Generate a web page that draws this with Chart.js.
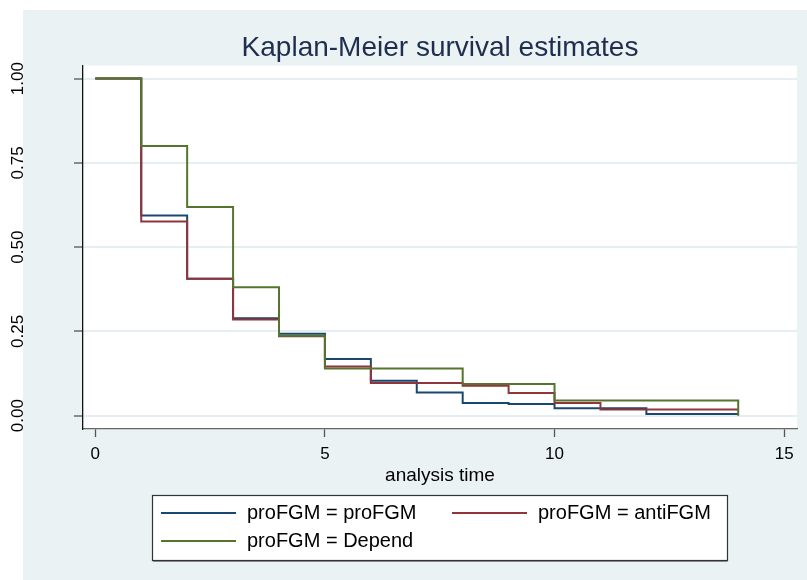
<!DOCTYPE html>
<html>
<head>
<meta charset="utf-8">
<script src="https://cdn.jsdelivr.net/npm/chart.js@4"></script>
<style>
  html, body { margin: 0; padding: 0; background: #fff; }
  #wrap { width: 807px; height: 580px; }
</style>
</head>
<body>
<div id="wrap"><canvas id="km"></canvas></div>
<script>
'use strict';

// Datos (función escalonada de Kaplan-Meier)
const TIEMPOS = [0, 1, 2, 3, 4, 5, 6, 7, 8, 9, 10, 11, 12, 13, 14];
const PRO_FGM = [1, 0.594, 0.406, 0.289, 0.243, 0.168, 0.104, 0.069, 0.038, 0.035, 0.022, 0.022, 0.005, 0.005, 0.005];
const ANTI_FGM = [1, 0.576, 0.406, 0.285, 0.236, 0.146, 0.097, 0.097, 0.089, 0.067, 0.038, 0.018, 0.018, 0.018, 0.018];
const DEPEND = [1, 0.80, 0.619, 0.381, 0.237, 0.14, 0.14, 0.14, 0.094, 0.094, 0.045, 0.045, 0.045, 0.045, 0];
const SERIES = ['proFGM = proFGM', 'proFGM = antiFGM', 'proFGM = Depend'];
const X_TICKS = [0, 5, 10, 15];
const Y_TICKS = [0, 0.25, 0.5, 0.75, 1];

const NAVY = '#1a476f', MAROON = '#90353b', VERDE = '#55752f';
const FONDO = '#eaf2f3';
const FAM = "'Liberation Sans', Arial, sans-serif";

const toPts = (ys) => TIEMPOS.map((t, i) => ({ x: t, y: ys[i] }));

// Fondo estilo Stata: margen blanco, región gris azulada, área de trazado blanca
const fondoPlugin = {
  id: 'fondo',
  beforeDraw(chart) {
    const { ctx, chartArea: a } = chart;
    ctx.save();
    ctx.fillStyle = '#fff';
    ctx.fillRect(0, 0, chart.width, chart.height);
    ctx.fillStyle = FONDO;
    ctx.fillRect(23, 10, chart.width - 23, chart.height - 10);
    ctx.fillStyle = '#fff';
    ctx.fillRect(a.left, a.top, a.right - a.left, a.bottom - a.top);
    ctx.restore();
  },
};

// Etiquetas del eje Y giradas 90°, como en Stata
const yLabelsPlugin = {
  id: 'yLabels',
  afterDraw(chart) {
    const { ctx } = chart;
    const ys = chart.scales.y;
    ctx.save();
    ctx.font = `17px ${FAM}`;
    ctx.fillStyle = '#000';
    ctx.textAlign = 'center';
    ctx.textBaseline = 'middle';
    ys.ticks.forEach(t => {
      const py = ys.getPixelForValue(t.value);
      ctx.save();
      ctx.translate(18, py);
      ctx.rotate(-Math.PI / 2);
      ctx.fillText(t.value.toFixed(2), 0, 0);
      ctx.restore();
    });
    ctx.restore();
  },
};

// Leyenda con recuadro, dos columnas
const leyendaPlugin = {
  id: 'leyenda',
  afterDraw(chart) {
    const { ctx } = chart;
    const box = { x: 152, y: 495, w: 575, h: 65 };
    ctx.save();
    ctx.fillStyle = '#fff';
    ctx.fillRect(box.x, box.y, box.w, box.h);
    ctx.strokeStyle = '#333';
    ctx.lineWidth = 1.2;
    ctx.strokeRect(box.x + 0.5, box.y + 0.5, box.w, box.h);
    ctx.strokeStyle = '#888';
    ctx.beginPath();
    ctx.moveTo(box.x + 1, box.y + box.h + 1.5);
    ctx.lineTo(box.x + box.w + 0.5, box.y + box.h + 1.5);
    ctx.stroke();
    const items = [
      { x: 161, y: 513 }, { x: 452, y: 513 }, { x: 161, y: 541 },
    ];
    ctx.font = `20px ${FAM}`;
    ctx.textBaseline = 'middle';
    ctx.textAlign = 'left';
    chart.data.datasets.forEach((ds, i) => {
      const it = items[i];
      ctx.strokeStyle = ds.borderColor;
      ctx.lineWidth = 2;
      ctx.beginPath();
      ctx.moveTo(it.x, it.y);
      ctx.lineTo(it.x + 75, it.y);
      ctx.stroke();
      ctx.fillStyle = '#000';
      ctx.fillText(ds.label, it.x + 86, it.y);
    });
    ctx.restore();
  },
};

new Chart(document.getElementById('km'), {
  type: 'line',
  data: {
    datasets: [
      { label: SERIES[0], data: toPts(PRO_FGM), borderColor: NAVY, order: 2 },
      { label: SERIES[1], data: toPts(ANTI_FGM), borderColor: MAROON, order: 1 },
      { label: SERIES[2], data: toPts(DEPEND), borderColor: VERDE, order: 0 },
    ],
  },
  options: {
    responsive: true, maintainAspectRatio: false, animation: false,
    elements: {
      line: { borderWidth: 2, stepped: true, fill: false, tension: 0 },
      point: { radius: 0, hoverRadius: 0 },
    },
    layout: { padding: { left: 74, right: 10, top: 0, bottom: 91 } },
    plugins: {
      legend: { display: false },
      tooltip: { enabled: false },
      title: {
        display: true, text: 'Kaplan-Meier survival estimates',
        color: '#1e2e4e', font: { family: FAM, size: 28, weight: 'normal' },
        padding: { top: 31, bottom: 1 }, fullSize: false,
      },
    },
    scales: {
      x: {
        type: 'linear', min: -0.268, max: 15.28,
        afterBuildTicks: (ax) => { ax.ticks = X_TICKS.map(v => ({ value: v })); },
        afterFit: (ax) => { ax.height = 60; },
        ticks: { color: '#000', font: { family: FAM, size: 17 }, padding: 7, maxRotation: 0 },
        grid: { display: true, drawOnChartArea: false, drawTicks: true, tickLength: 8, tickColor: '#555', tickWidth: 1.3 },
        border: { display: true, color: '#666', width: 1.3 },
        title: { display: true, text: 'analysis time', color: '#000', font: { family: FAM, size: 19 }, padding: { top: 0, bottom: 2 } },
      },
      y: {
        type: 'linear', min: -0.0395, max: 1.0386,
        afterBuildTicks: (ax) => { ax.ticks = Y_TICKS.map(v => ({ value: v })); },
        ticks: { display: false },
        grid: { color: '#e6eef1', lineWidth: 2, drawTicks: true, tickLength: 9, tickColor: '#555', tickWidth: 1.3 },
        border: { display: true, color: '#111', width: 1.3 },
      },
    },
  },
  plugins: [fondoPlugin, yLabelsPlugin, leyendaPlugin],
});
</script>
</body>
</html>
